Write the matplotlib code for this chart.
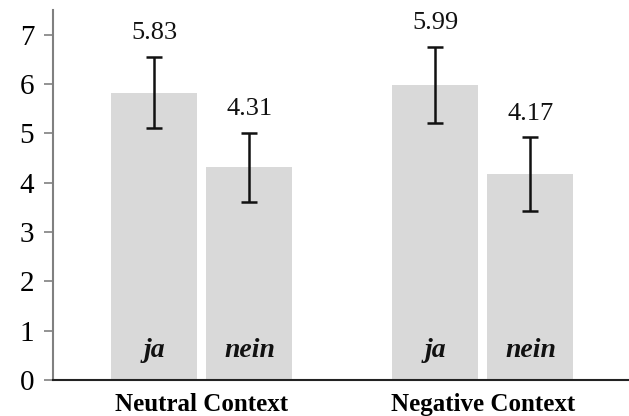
import numpy as np
import matplotlib.pyplot as plt

plt.rcParams['font.family'] = ['Liberation Serif', 'DejaVu Serif']

contexts = ['Neutral Context', 'Negative Context']
answers = ['ja', 'nein']
means = [[5.83, 4.31], [5.99, 4.17]]
errors = [[0.72, 0.70], [0.77, 0.75]]

bar_w = 0.306
offset = 0.169
group_x = np.arange(len(contexts))

fig = plt.figure(figsize=(6.29, 4.16), dpi=100)
ax = fig.add_axes([0.0843, 0.0865, 0.9157, 0.889])

for g in range(len(contexts)):
    for k in range(len(answers)):
        x = group_x[g] + (k * 2 - 1) * offset
        m = means[g][k]
        e = errors[g][k]
        ax.bar(x, m, width=bar_w, color='#d9d9d9', zorder=1)
        ax.errorbar(x, m, yerr=e, fmt='none', ecolor='#111111',
                    elinewidth=1.8, capsize=6, capthick=1.8, zorder=3)
        ax.text(x, m + e + 0.36, '%.2f' % m, ha='center', va='baseline',
                fontsize=19, color='#111111')
        ax.text(x, 0.6, answers[k], ha='center', va='center', fontsize=20,
                fontweight='bold', fontstyle='italic', color='#111111')

ax.set_ylim(0, 7.5)
ax.set_xlim(-0.53, 1.52)
ax.set_yticks(range(8))
ax.set_xticks(group_x)
ax.set_xticklabels(contexts, fontsize=18, fontweight='bold')
ax.tick_params(axis='x', length=0, pad=9)
ax.tick_params(axis='y', length=6.5, width=1.2, color='#808080',
               labelsize=21, pad=7)

for s in ['top', 'right']:
    ax.spines[s].set_visible(False)
ax.spines['left'].set_color('#808080')
ax.spines['left'].set_linewidth(1.5)
ax.spines['bottom'].set_color('#222222')
ax.spines['bottom'].set_linewidth(1.5)

fig.savefig('out.png', dpi=100)
